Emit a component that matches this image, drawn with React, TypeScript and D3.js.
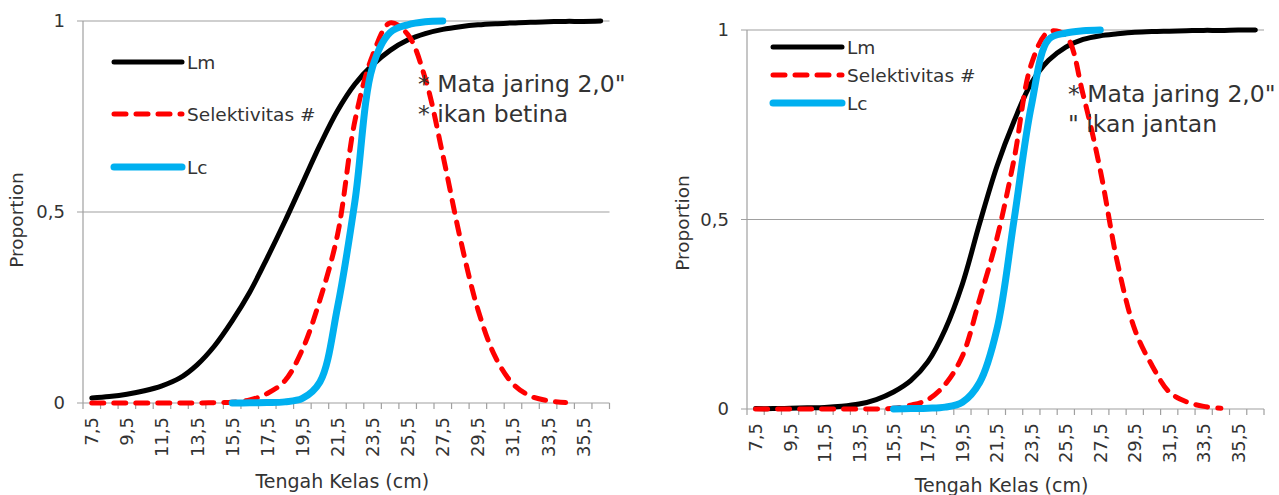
import React from "react";
import * as d3 from "d3";

// ---------- data ----------
const categories = [
  7.5, 8.5, 9.5, 10.5, 11.5, 12.5, 13.5, 14.5, 15.5, 16.5,
  17.5, 18.5, 19.5, 20.5, 21.5, 22.5, 23.5, 24.5, 25.5, 26.5,
  27.5, 28.5, 29.5, 30.5, 31.5, 32.5, 33.5, 34.5, 35.5, 36.5,
];
const tickLabels = [
  "7,5", "9,5", "11,5", "13,5", "15,5", "17,5", "19,5", "21,5",
  "23,5", "25,5", "27,5", "29,5", "31,5", "33,5", "35,5",
];
const yTicks = [0, 0.5, 1];
const yTickLabels = ["0", "0,5", "1"];
const seriesNames = ["Lm", "Selektivitas #", "Lc"];

// Left panel: ikan betina
const lmBetina = [
  0.013, 0.017, 0.023, 0.032, 0.045, 0.065, 0.1, 0.15, 0.215, 0.29,
  0.38, 0.475, 0.575, 0.675, 0.765, 0.835, 0.885, 0.923, 0.95, 0.967,
  0.978, 0.985, 0.99, 0.993, 0.995, 0.997, 0.998, 0.999, 0.999, 1.0,
];
const selBetina = [
  0, 0, 0, 0, 0, 0, 0, 0.001, 0.002, 0.008,
  0.025, 0.058, 0.14, 0.27, 0.44, 0.74, 0.91, 0.995, 0.965, 0.85,
  0.65, 0.43, 0.245, 0.12, 0.05, 0.018, 0.006, 0.001, null, null,
];
const lcBetina = [
  null, null, null, null, null, null, null, null, 0, 0.0005,
  0.001, 0.003, 0.012, 0.055, 0.25, 0.53, 0.88, 0.97, 0.99, 0.998,
  1.0, null, null, null, null, null, null, null, null, null,
];

// Right panel: ikan jantan
const lmJantan = [
  0.001, 0.001, 0.002, 0.003, 0.004, 0.007, 0.013, 0.025, 0.045, 0.075,
  0.125, 0.21, 0.33, 0.49, 0.64, 0.76, 0.86, 0.92, 0.955, 0.975,
  0.985, 0.99, 0.994, 0.996, 0.997, 0.998, 0.999, 0.999, 1.0, 1.0,
];
const selJantan = [
  0, 0, 0, 0, 0, 0, 0, 0, 0.002, 0.01,
  0.025, 0.065, 0.14, 0.29, 0.45, 0.66, 0.91, 0.995, 0.985, 0.83,
  0.63, 0.385, 0.21, 0.115, 0.045, 0.019, 0.007, 0.002, null, null,
];
const lcJantan = [
  null, null, null, null, null, null, null, null, 0, 0.001,
  0.002, 0.005, 0.018, 0.07, 0.21, 0.5, 0.8, 0.975, 0.992, 0.998,
  1.0, null, null, null, null, null, null, null, null, null,
];

const noteBetina = ['* Mata jaring 2,0"', "* ikan betina"];
const noteJantan = ['* Mata jaring 2,0"', '" ikan jantan'];
const xTitle = "Tengah Kelas (cm)";
const yTitle = "Proportion";

// ---------- styles ----------
const FONT = "'DejaVu Sans', sans-serif";
const TEXT = "#333333";
const GRID = "#a0a0a0";
const styles = [
  { stroke: "#000000", width: 5, dash: undefined as string | undefined },
  { stroke: "#ff0000", width: 5, dash: "12 10" },
  { stroke: "#00b0f0", width: 7, dash: undefined as string | undefined },
];

type PanelProps = {
  x0: number; x1: number; yTop: number; yBot: number;
  series: (number | null)[][];
  legendX: number; legendYs: number[]; legendLen: number;
  noteX: number; noteY1: number; noteY2: number; note: string[];
  xTitleY: number; yTitleX: number; yTitleY: number;
};

function Panel(p: PanelProps) {
  const x = d3.scaleBand<string>().domain(categories.map(String)).range([p.x0, p.x1]).padding(0);
  const bw = x.bandwidth();
  const cx = (i: number) => (x(String(categories[i])) as number) + bw / 2;
  const y = d3.scaleLinear().domain([0, 1]).range([p.yBot, p.yTop]);
  const line = d3
    .line<number | null>()
    .defined((d) => d != null)
    .x((_, i) => cx(i))
    .y((d) => y(d as number))
    .curve(d3.curveCatmullRom.alpha(0.5));

  const boundaries = categories.map((c) => x(String(c)) as number).concat([p.x1]);

  return (
    <g>
      {yTicks.map((t) => (
        <line key={"g" + t} x1={p.x0 - 6} x2={p.x1} y1={y(t)} y2={y(t)} stroke={GRID} strokeWidth={1.2} />
      ))}
      <line x1={p.x0} x2={p.x0} y1={p.yTop} y2={p.yBot} stroke={GRID} strokeWidth={1.2} />
      {boundaries.map((b, i) => (
        <line key={"t" + i} x1={b} x2={b} y1={p.yBot} y2={p.yBot + 6} stroke={GRID} strokeWidth={1.2} />
      ))}
      {yTicks.map((t, i) => (
        <text key={"yl" + t} x={p.x0 - 18} y={y(t)} dy="0.36em" textAnchor="end"
          fontFamily={FONT} fontSize={18} fill={TEXT}>{yTickLabels[i]}</text>
      ))}
      {tickLabels.map((lab, i) => {
        const px = cx(i * 2);
        const py = p.yBot + 14;
        return (
          <text key={"xl" + i} transform={`translate(${px},${py}) rotate(-90)`} dy="0.36em"
            textAnchor="end" fontFamily={FONT} fontSize={18} fill={TEXT}>{lab}</text>
        );
      })}
      <text x={(p.x0 + p.x1) / 2 - 4} y={p.xTitleY} textAnchor="middle" fontFamily={FONT} fontSize={19} fill={TEXT}>{xTitle}</text>
      <text transform={`translate(${p.yTitleX},${p.yTitleY}) rotate(-90)`} textAnchor="middle"
        fontFamily={FONT} fontSize={18.5} fill={TEXT}>{yTitle}</text>
      {p.series.map((s, i) => (
        <path key={"s" + i} d={line(s) || ""} fill="none" stroke={styles[i].stroke}
          strokeWidth={styles[i].width} strokeDasharray={styles[i].dash}
          strokeLinecap="round" strokeLinejoin="round" />
      ))}
      {seriesNames.map((n, i) => (
        <g key={"lg" + i}>
          <line x1={p.legendX} x2={p.legendX + p.legendLen} y1={p.legendYs[i]} y2={p.legendYs[i]}
            stroke={styles[i].stroke} strokeWidth={styles[i].width}
            strokeDasharray={styles[i].dash} strokeLinecap="round" />
          <text x={p.legendX + p.legendLen + 5} y={p.legendYs[i]} dy="0.36em"
            fontFamily={FONT} fontSize={18.5} fill={TEXT}>{n}</text>
        </g>
      ))}
      <text x={p.noteX} y={p.noteY1} fontFamily={FONT} fontSize={23.5} fill={TEXT}>{p.note[0]}</text>
      <text x={p.noteX} y={p.noteY2} fontFamily={FONT} fontSize={23.5} fill={TEXT}>{p.note[1]}</text>
    </g>
  );
}

export default function App() {
  return (
    <svg width={1279} height={495} viewBox="0 0 1279 495"
      style={{ position: "absolute", left: 0, top: 0, background: "#fff" }}>
      <rect x={0} y={0} width={1279} height={495} fill="#fff" />
      <Panel x0={83} x1={609.5} yTop={21} yBot={403}
        series={[lmBetina, selBetina, lcBetina]}
        legendX={114} legendYs={[62, 114, 167]} legendLen={68}
        noteX={418} noteY1={92} noteY2={122} note={noteBetina}
        xTitleY={488} yTitleX={23} yTitleY={220} />
      <Panel x0={747} x1={1264} yTop={30} yBot={409}
        series={[lmJantan, selJantan, lcJantan]}
        legendX={773} legendYs={[47, 75, 103]} legendLen={69}
        noteX={1068} noteY1={102} noteY2={132} note={noteJantan}
        xTitleY={492} yTitleX={689} yTitleY={223} />
    </svg>
  );
}
